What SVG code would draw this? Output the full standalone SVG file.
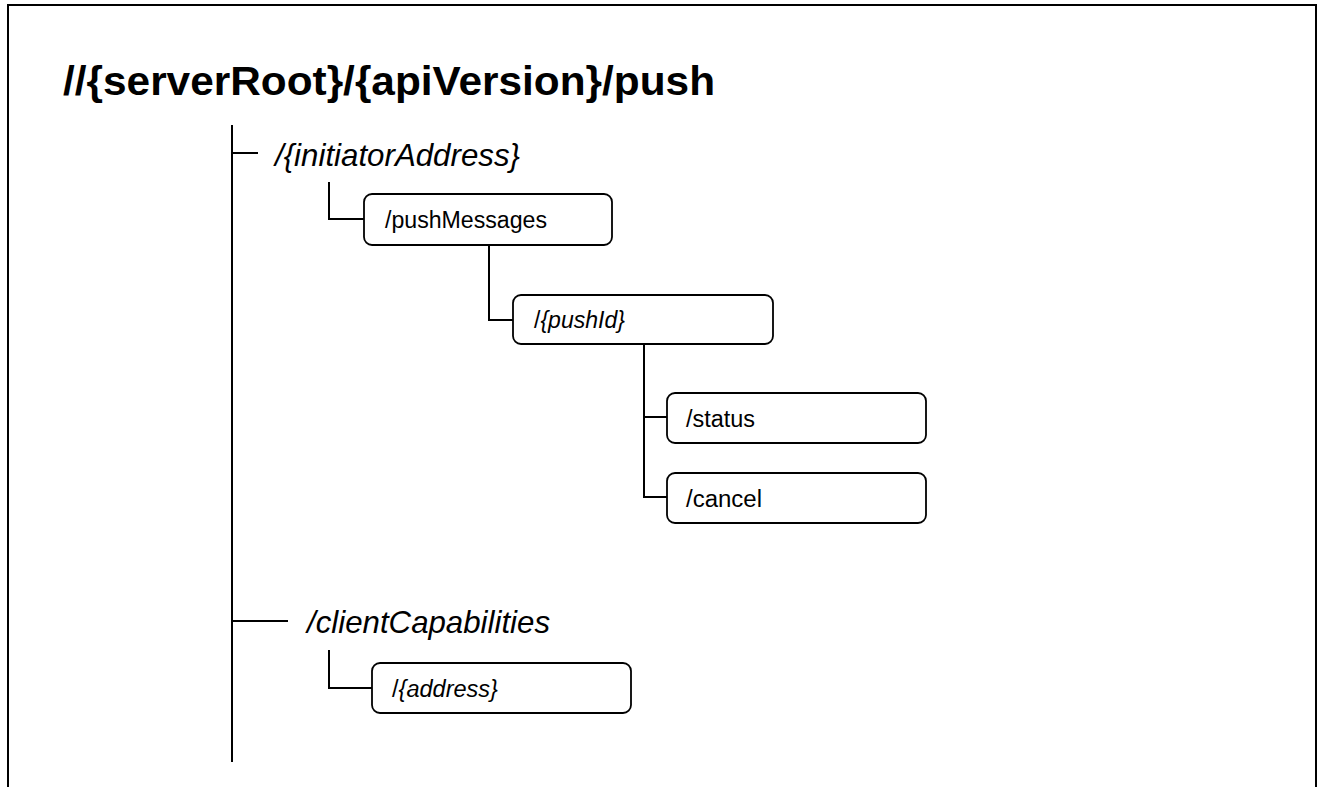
<svg xmlns="http://www.w3.org/2000/svg" width="1319" height="787" viewBox="0 0 1319 787">
<style>
.ln{fill:none;stroke:#000;stroke-width:2}
.box{fill:#fff;stroke:#000;stroke-width:1.8}
.t{font-family:"Liberation Sans",Arial,sans-serif;fill:#000}
.bt{font-size:23px}
.it{font-style:italic}
</style>
<rect width="1319" height="787" fill="#fff"/>
<path class="ln" d="M8,790 V5 H1316 V790"/>
<g id="title"><text class="t" x="63" y="95" font-size="41" font-weight="bold" textLength="652" lengthAdjust="spacingAndGlyphs">//{serverRoot}/{apiVersion}/push</text></g>
<g id="connectors">
<path class="ln" d="M232,125 V762"/>
<path class="ln" d="M232,153 H258"/>
<path class="ln" d="M232,621 H288"/>
<path class="ln" d="M329,182 V219 H364"/>
<path class="ln" d="M489,245 V320 H513"/>
<path class="ln" d="M644,344 V497 H667 M644,417 H667"/>
<path class="ln" d="M329,650 V688 H372"/>
</g>
<g id="initiatorAddress"><text class="t it" x="275" y="166" font-size="32" textLength="245" lengthAdjust="spacingAndGlyphs">/{initiatorAddress}</text></g>
<g id="pushMessages"><rect class="box" x="364" y="194" width="248" height="51" rx="8"/><text class="t bt" x="385" y="227.5" textLength="162" lengthAdjust="spacingAndGlyphs">/pushMessages</text></g>
<g id="pushId"><rect class="box" x="513" y="295" width="260" height="49" rx="8"/><text class="t bt" x="534" y="327.5" textLength="91" lengthAdjust="spacingAndGlyphs">/<tspan class="it">{pushId}</tspan></text></g>
<g id="status"><rect class="box" x="667" y="393" width="259" height="50" rx="8"/><text class="t bt" x="686" y="426.5" textLength="69" lengthAdjust="spacingAndGlyphs">/status</text></g>
<g id="cancel"><rect class="box" x="667" y="473" width="259" height="50" rx="8"/><text class="t bt" x="686" y="506.5" textLength="76" lengthAdjust="spacingAndGlyphs">/cancel</text></g>
<g id="clientCapabilities"><text class="t it" x="307" y="633" font-size="32" textLength="243" lengthAdjust="spacingAndGlyphs">/clientCapabilities</text></g>
<g id="address"><rect class="box" x="372" y="663" width="259" height="50" rx="8"/><text class="t bt" x="392" y="696.5" textLength="106" lengthAdjust="spacingAndGlyphs">/<tspan class="it">{address}</tspan></text></g>
</svg>
